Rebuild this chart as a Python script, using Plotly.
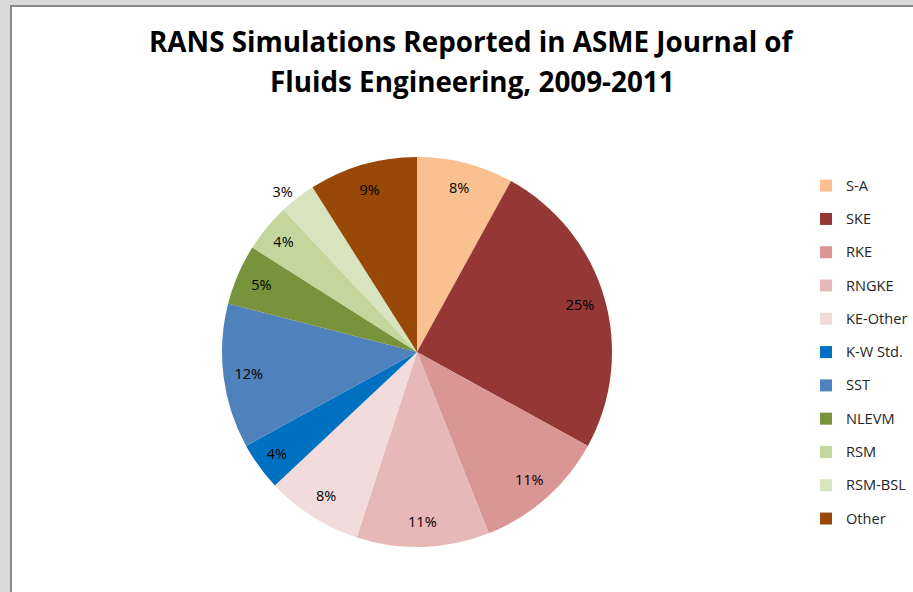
import plotly.graph_objects as go

# ---- data ----
models = ["S-A", "SKE", "RKE", "RNGKE", "KE-Other", "K-W Std.", "SST",
          "NLEVM", "RSM", "RSM-BSL", "Other"]
shares = [8, 25, 11, 11, 8, 4, 12, 5, 4, 3, 9]
colors = ["#FAC090", "#953735", "#D99694", "#E6B9B8", "#F2DCDB", "#0070C0",
          "#4F81BD", "#77933C", "#C3D69B", "#D7E4BD", "#984807"]
title_lines = ["RANS Simulations Reported in ASME Journal of",
               "Fluids Engineering, 2009-2011"]

W, H = 913, 592
FONT = "Open Sans"

dom_x = [222 / W, 612 / W]
dom_y = [(H - 547) / H, (H - 157) / H]

fig = go.Figure()

# main pie (colours + legend)
fig.add_trace(go.Pie(
    labels=[f'<span style="font-size:14.6px;baseline-shift:4px">{m}</span>' for m in models],
    values=shares,
    sort=False,
    direction="clockwise",
    rotation=0,
    marker=dict(colors=colors, line=dict(width=0)),
    textinfo="none",
    hoverinfo="label+percent",
    domain=dict(x=dom_x, y=dom_y),
    showlegend=True,
))

# transparent ring used only to place the percentage labels near the rim
text_pos = ["inside"] * len(models)
text_pos[models.index("RSM-BSL")] = "outside"
fig.add_trace(go.Pie(
    labels=models,
    values=shares,
    sort=False,
    direction="clockwise",
    rotation=0,
    hole=0.74,
    marker=dict(colors=["rgba(0,0,0,0)"] * len(models), line=dict(width=0)),
    textinfo="percent",
    textposition=text_pos,
    insidetextorientation="horizontal",
    textfont=dict(family=FONT, size=14.5, color="#000000"),
    hoverinfo="skip",
    domain=dict(x=dom_x, y=dom_y),
    showlegend=False,
))

fig.add_shape(type="rect", xref="paper", yref="paper",
              x0=11 / W, x1=1.02, y0=-0.02, y1=1 - 6 / H,
              line=dict(color="#878787", width=2), fillcolor="#FFFFFF",
              layer="below")

for i, (txt, yc) in enumerate(zip(title_lines, [41.5, 81])):
    fig.add_annotation(text=f"<b>{txt}</b>", xref="paper", yref="paper",
                       x=472 / W, y=1 - yc / H, xanchor="center", yanchor="middle",
                       showarrow=False,
                       font=dict(family=FONT, size=27.8, color="#000000"))

fig.update_layout(
    width=W, height=H,
    margin=dict(l=0, r=0, t=0, b=0),
    paper_bgcolor="#D9D9D9",
    font=dict(family=FONT, color="#262626"),
    legend=dict(x=(846 - 40) / W, xanchor="left",
                y=1 - 164 / H, yanchor="top",
                font=dict(family=FONT, size=23.3, color="#262626"),
                bgcolor="rgba(0,0,0,0)", itemwidth=30),
)

fig.write_html("out.html",
               config={"displayModeBar": False},
               post_script="document.body.style.margin='0px';document.body.style.overflow='hidden';")
